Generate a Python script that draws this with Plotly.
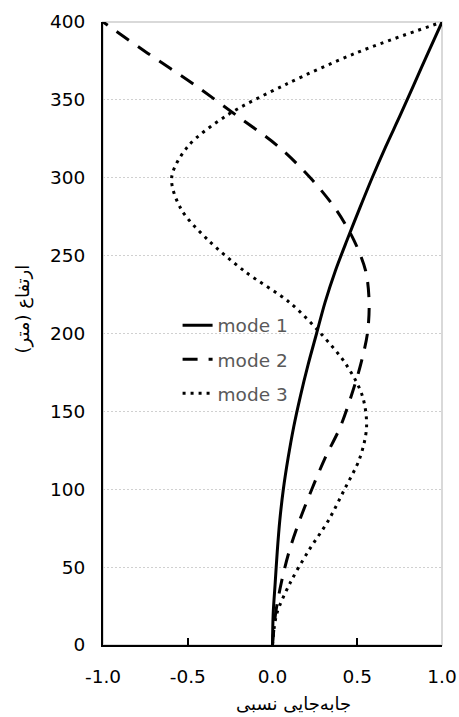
import plotly.graph_objects as go

heights = [0, 20, 40, 60, 80, 100, 120, 140, 160, 180, 200,
           220, 240, 260, 280, 300, 320, 340, 360, 380, 400]
mode1 = [0, 0.004, 0.016, 0.028, 0.043, 0.064, 0.092, 0.125, 0.165, 0.21, 0.26,
         0.31, 0.37, 0.44, 0.513, 0.588, 0.668, 0.753, 0.835, 0.917, 1.0]
mode2 = [0, 0.018, 0.052, 0.098, 0.16, 0.232, 0.31, 0.40, 0.465, 0.52, 0.56,
         0.57, 0.55, 0.48, 0.372, 0.223, 0.035, -0.212, -0.465, -0.737, -1.0]
mode3 = [0, 0.025, 0.105, 0.21, 0.33, 0.425, 0.515, 0.555, 0.53, 0.435, 0.285,
         0.10, -0.165, -0.38, -0.54, -0.595, -0.50, -0.27, 0.08, 0.49, 1.0]
names = ["mode 1", "mode 2", "mode 3"]
dashes = ["solid", "15px,11px", "3px,5px"]
xticks = [-1.0, -0.5, 0.0, 0.5, 1.0]
yticks = [0, 50, 100, 150, 200, 250, 300, 350, 400]

fig = go.Figure()
for vals, nm, ds in zip([mode1, mode2, mode3], names, dashes):
    fig.add_trace(go.Scatter(
        x=vals, y=heights, mode="lines", name=nm, legendgroup=nm,
        line=dict(color="black", width=3, dash=ds, shape="spline", smoothing=0.9),
    ))

tickfont = dict(family="DejaVu Sans", size=18.5, color="black")
fig.update_layout(
    width=459, height=717,
    margin=dict(l=103, r=17, t=22, b=72),
    paper_bgcolor="white", plot_bgcolor="white",
    showlegend=True,
    legend=dict(x=0.22, y=0.543, xanchor="left", yanchor="top",
                bgcolor="rgba(0,0,0,0)", tracegroupgap=7,
                font=dict(family="DejaVu Sans", size=18.5, color="#595959")),
    xaxis=dict(range=[-1, 1], tickvals=xticks, ticktext=[f"{v:.1f}" for v in xticks],
               showgrid=False, zeroline=False, showline=True, linecolor="black", linewidth=2,
               ticks="inside", ticklen=7, tickwidth=1.5, tickcolor="black",
               tickfont=tickfont, ticklabelstandoff=14, automargin=False),
    yaxis=dict(range=[0, 400], tickvals=yticks, showgrid=True, gridcolor="#d0d0d0",
               griddash="2px,2px", gridwidth=1.2, zeroline=False, showline=True,
               linecolor="black", linewidth=2, ticks="", tickfont=tickfont,
               ticklabelstandoff=12, automargin=False),
    shapes=[dict(type="rect", xref="x domain", yref="y domain", x0=0, x1=1, y0=0, y1=1,
                 line=dict(color="#d9d9d9", width=2), layer="below")],
    annotations=[
        dict(text="جابه‌جایی نسبی", xref="paper", yref="paper", x=0.563, y=-0.094,
             xanchor="center", yanchor="middle", showarrow=False,
             font=dict(family="DejaVu Sans", size=18, color="black")),
        dict(text="ارتفاع (متر)", xref="paper", yref="paper", x=-0.236, y=0.54,
             xanchor="center", yanchor="middle", showarrow=False, textangle=-90,
             font=dict(family="DejaVu Sans", size=18, color="black")),
    ],
)
fig.write_html("out.html")
